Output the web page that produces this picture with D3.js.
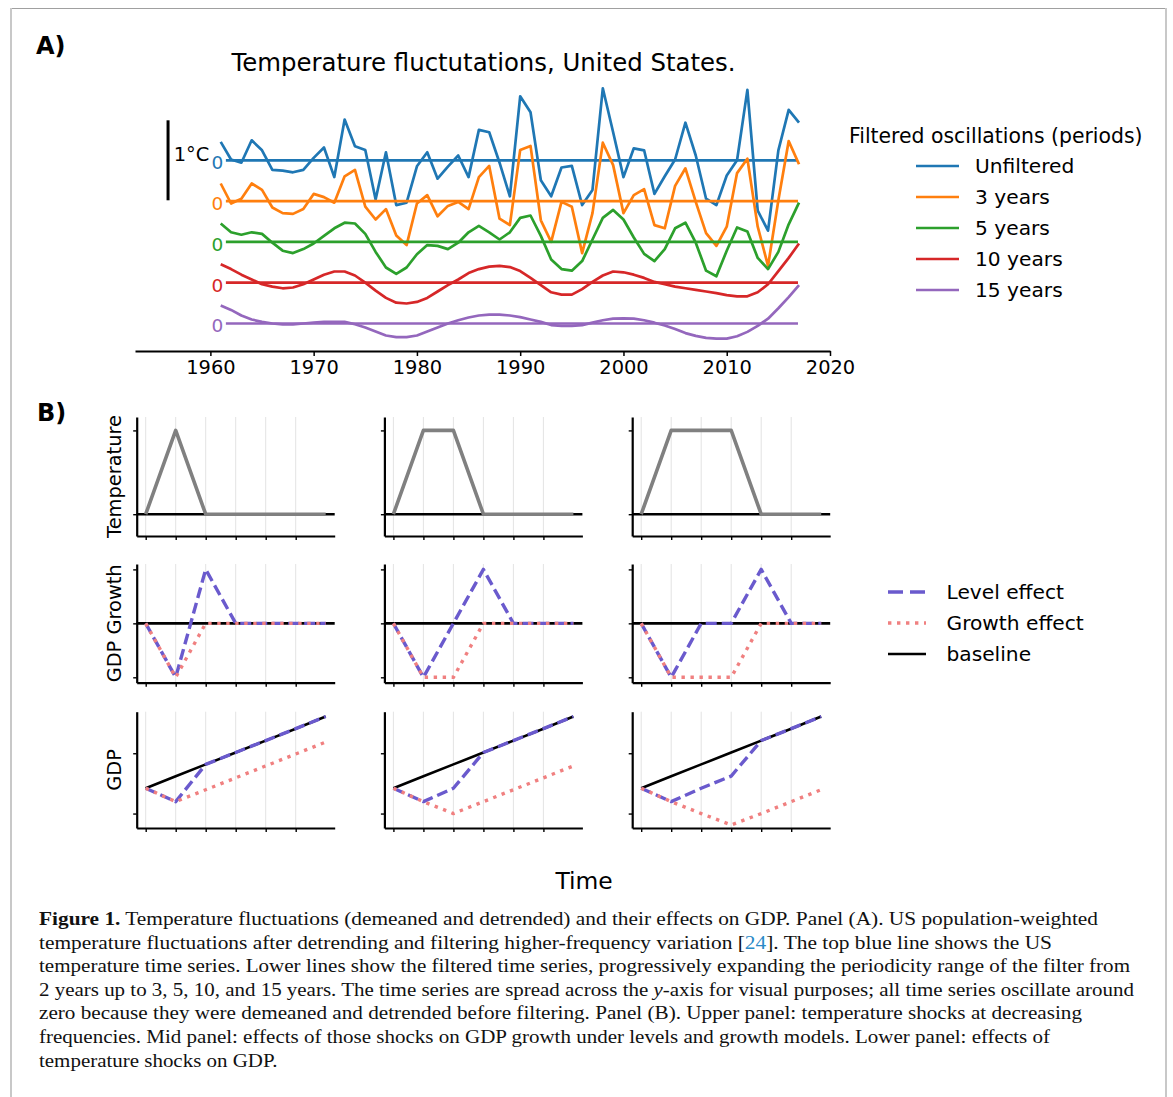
<!DOCTYPE html>
<html>
<head>
<meta charset="utf-8">
<script src="https://cdn.jsdelivr.net/npm/d3@7"></script>
<style>
  body { margin: 0; background: #fff; }
  svg { display: block; }
</style>
</head>
<body>
<script>
// ---------------- Panel A data: US temperature fluctuations (degC, demeaned + detrended) ----------------
var years = [1961,1962,1963,1964,1965,1966,1967,1968,1969,1970,
             1971,1972,1973,1974,1975,1976,1977,1978,1979,1980,
             1981,1982,1983,1984,1985,1986,1987,1988,1989,1990,
             1991,1992,1993,1994,1995,1996,1997,1998,1999,2000,
             2001,2002,2003,2004,2005,2006,2007,2008,2009,2010,
             2011,2012,2013,2014,2015,2016,2017];
var unfiltered = [0.23,0.01,-0.03,0.25,0.125,-0.12,-0.13,-0.15,-0.12,0.03,
                  0.16,-0.21,0.51,0.175,0.13,-0.49,0.10,-0.56,-0.53,-0.075,
                  0.10,-0.23,-0.08,0.06,-0.21,0.38,0.35,-0.03,-0.45,0.80,
                  0.60,-0.25,-0.45,-0.09,-0.07,-0.56,-0.37,0.90,0.35,-0.21,
                  0.15,0.125,-0.42,-0.20,0.01,0.47,0.06,-0.48,-0.56,-0.19,
                  0.0,0.88,-0.63,-0.88,0.125,0.63,0.47];
var filt3 = [0.22,-0.03,0.03,0.22,0.14,-0.08,-0.15,-0.16,-0.10,0.09,
             0.05,-0.02,0.31,0.39,-0.07,-0.23,-0.10,-0.43,-0.55,-0.03,
             0.075,-0.19,-0.06,-0.01,-0.10,0.30,0.44,-0.22,-0.30,0.64,
             0.69,-0.24,-0.51,-0.01,-0.07,-0.65,-0.15,0.73,0.45,-0.15,
             0.075,0.15,-0.30,-0.34,0.19,0.41,-0.01,-0.40,-0.56,-0.32,
             0.35,0.53,-0.32,-0.81,0.01,0.75,0.46];
var filt5 = [0.23,0.12,0.09,0.12,0.10,-0.01,-0.11,-0.14,-0.09,-0.02,
             0.075,0.17,0.24,0.23,0.10,-0.125,-0.32,-0.40,-0.32,-0.155,
             -0.04,-0.05,-0.09,-0.01,0.12,0.20,0.12,0.03,0.12,0.30,
             0.33,0.075,-0.22,-0.34,-0.36,-0.24,0.03,0.30,0.40,0.28,
             0.055,-0.15,-0.24,-0.09,0.17,0.24,-0.01,-0.36,-0.43,-0.11,
             0.18,0.13,-0.20,-0.34,-0.125,0.22,0.49];
var filt10 = [0.23,0.17,0.10,0.04,-0.02,-0.05,-0.07,-0.06,-0.02,0.04,
              0.10,0.14,0.14,0.09,0.0,-0.10,-0.19,-0.25,-0.26,-0.24,
              -0.19,-0.11,-0.03,0.04,0.12,0.17,0.20,0.21,0.195,0.145,
              0.06,-0.03,-0.12,-0.15,-0.15,-0.08,0.01,0.09,0.14,0.13,
              0.10,0.06,0.01,-0.02,-0.05,-0.07,-0.09,-0.11,-0.13,-0.155,
              -0.17,-0.17,-0.12,-0.02,0.145,0.31,0.49];
var filt15 = [0.225,0.17,0.10,0.05,0.02,0.0,-0.01,-0.01,0.0,0.01,
              0.02,0.02,0.02,-0.01,-0.05,-0.10,-0.15,-0.17,-0.17,-0.15,
              -0.10,-0.05,0.0,0.04,0.075,0.10,0.11,0.11,0.10,0.08,
              0.05,0.02,-0.02,-0.03,-0.03,-0.02,0.01,0.04,0.06,0.065,
              0.06,0.04,0.01,-0.025,-0.07,-0.12,-0.155,-0.18,-0.19,-0.19,
              -0.16,-0.105,-0.03,0.06,0.19,0.33,0.48];
var seriesNames = ["Unfiltered", "3 years", "5 years", "10 years", "15 years"];
var seriesOffset = [0, -0.51, -1.02, -1.53, -2.04];   // vertical spreading (degC)
var yearTicks = [1960, 1970, 1980, 1990, 2000, 2010, 2020];

// ---------------- Panel B data: stylised shocks ----------------
var steps = [0, 1, 2, 3, 4, 5, 6];
var stepTicks = [0, 1, 2, 3, 4, 5];
var tempShock = [[0,1,0,0,0,0,0], [0,1,1,0,0,0,0], [0,1,1,1,0,0,0]];
var growthLevel = [[0,-1,1,0,0,0,0], [0,-1,0,1,0,0,0], [0,-1,0,0,1,0,0]];
var growthGrowth = [[0,-1,0,0,0,0,0], [0,-1,-1,0,0,0,0], [0,-1,-1,-1,0,0,0]];
var gdpBaseline = [0, 0.47, 0.94, 1.41, 1.88, 2.35, 2.83];
var gdpLevel = [[0,-0.53,0.94,1.41,1.88,2.35,2.83],
                [0,-0.53,0.0,1.41,1.88,2.35,2.83],
                [0,-0.53,0.0,0.48,1.88,2.35,2.83]];
var gdpGrowth = [[0,-0.53,-0.06,0.41,0.88,1.35,1.82],
                 [0,-0.53,-1.0,-0.53,-0.06,0.41,0.88],
                 [0,-0.53,-1.0,-1.45,-1.0,-0.53,-0.06]];
var tempTicks = [0, 1];
var growthTicks = [-1, 0, 1];
var gdpTicks = [-1, 1.38];
var legendB = ["Level effect", "Growth effect", "baseline"];

// ---------------- setup ----------------
var W = 1173, H = 1097;
var sans = "DejaVu Sans, sans-serif";
var colors = ["#1f77b4", "#ff7f0e", "#2ca02c", "#d62728", "#9467bd"];
var levelColor = "#6a5acd", growthColor = "#f08080";

var svg = d3.select("body").append("svg")
  .attr("width", W)
  .attr("height", H)
  .style("font-family", sans);

svg.append("rect").attr("width", W).attr("height", H).attr("fill", "#fff");

// page frame
svg.append("line").attr("x1", 11).attr("x2", 1166).attr("y1", 8.5).attr("y2", 8.5)
  .attr("stroke", "#a0a0a0").attr("stroke-width", 1.2);
svg.append("line").attr("x1", 11).attr("x2", 11).attr("y1", 8).attr("y2", H)
  .attr("stroke", "#c8c8c8").attr("stroke-width", 2);
svg.append("line").attr("x1", 1166).attr("x2", 1166).attr("y1", 8).attr("y2", H)
  .attr("stroke", "#c8c8c8").attr("stroke-width", 2);

// panel letters
svg.append("text").attr("x", 36).attr("y", 54).text("A)")
  .attr("font-size", 24).attr("font-weight", "bold");
svg.append("text").attr("x", 37).attr("y", 421).text("B)")
  .attr("font-size", 24).attr("font-weight", "bold");

// ================= Panel A =================
var xA = d3.scaleLinear().domain([1952.7, 2020]).range([135, 830]);
var yA = d3.scaleLinear().domain([-2.384, 0]).range([351, 160.3]);   // 1 degC = 80 px

svg.append("text")
  .attr("x", 483.5).attr("y", 70.5)
  .attr("text-anchor", "middle")
  .attr("font-size", 24.4)
  .text("Temperature fluctutations, United States.");

var seriesA = [unfiltered, filt3, filt5, filt10, filt15];
var lineA = d3.line()
  .x(function (d) { return xA(d.year); })
  .y(function (d) { return yA(d.v); });

var gA = svg.append("g");
seriesA.forEach(function (vals, i) {
  var pts = years.map(function (yr, j) { return {year: yr, v: vals[j] + seriesOffset[i]}; });
  gA.append("path")
    .attr("d", lineA(pts))
    .attr("fill", "none")
    .attr("stroke", colors[i])
    .attr("stroke-width", 2.7)
    .attr("stroke-linejoin", "round");
  // zero line
  gA.append("line")
    .attr("x1", xA(1961.5)).attr("x2", xA(2016.9))
    .attr("y1", yA(seriesOffset[i])).attr("y2", yA(seriesOffset[i]))
    .attr("stroke", colors[i])
    .attr("stroke-width", 2.7);
  gA.append("text")
    .attr("x", xA(1961.25)).attr("y", yA(seriesOffset[i]) + 9)
    .attr("text-anchor", "end")
    .attr("font-size", 18.5)
    .attr("fill", colors[i])
    .text("0");
});

// 1 degC scale bar
gA.append("line")
  .attr("x1", xA(1955.9)).attr("x2", xA(1955.9))
  .attr("y1", yA(0.5)).attr("y2", yA(-0.5))
  .attr("stroke", "#000").attr("stroke-width", 3);
gA.append("text")
  .attr("x", xA(1956.45)).attr("y", 161)
  .attr("font-size", 19.4)
  .text("1°C");

// x axis
var axA = svg.append("g")
  .attr("transform", "translate(0,351)")
  .call(d3.axisBottom(xA).tickValues(yearTicks).tickFormat(d3.format("d"))
        .tickSize(5).tickSizeOuter(0).tickPadding(4));
axA.select(".domain").attr("stroke-width", 2);
axA.selectAll(".tick line").attr("stroke-width", 1.5);
axA.selectAll(".tick text").attr("font-size", 19.4).attr("font-family", sans).attr("fill", "#000");

// legend A
var legA = svg.append("g");
legA.append("text").attr("x", 849).attr("y", 142.5).attr("font-size", 20.4)
  .text("Filtered oscillations (periods)");
seriesNames.forEach(function (name, i) {
  var yy = 166 + i * 31;
  legA.append("line").attr("x1", 916).attr("x2", 959).attr("y1", yy).attr("y2", yy)
    .attr("stroke", colors[i]).attr("stroke-width", 2.7);
  legA.append("text").attr("x", 975).attr("y", yy + 7.3).attr("font-size", 20.2).text(name);
});

// ================= Panel B =================
var colLeft = [136.7, 384.4, 632.2];
var axW = 198;
var rowBox = [
  {top: 417, bottom: 536, domain: [-0.26, 1.16], ticks: tempTicks, label: "Temperature"},
  {top: 564, bottom: 682.7, domain: [-1.1, 1.1], ticks: growthTicks, label: "GDP Growth"},
  {top: 711.7, bottom: 828, domain: [-1.57, 3.02], ticks: gdpTicks, label: "GDP"}
];

function addLine(g, x, y, vals, color, width, dash) {
  var pts = steps.map(function (t, j) { return [t, vals[j]]; });
  var p = g.append("path")
    .attr("d", d3.line().x(function (d) { return x(d[0]); }).y(function (d) { return y(d[1]); })(pts))
    .attr("fill", "none")
    .attr("stroke", color)
    .attr("stroke-width", width)
    .attr("stroke-linejoin", "round");
  if (dash) p.attr("stroke-dasharray", dash);
  return p;
}

rowBox.forEach(function (row, r) {
  // y label
  svg.append("text")
    .attr("transform", "translate(121," + ((row.top + row.bottom) / 2) + ") rotate(-90)")
    .attr("text-anchor", "middle")
    .attr("font-size", 19.4)
    .text(row.label);

  colLeft.forEach(function (left, c) {
    var g = svg.append("g");
    var x = d3.scaleLinear().domain([-0.3, 6.3]).range([left, left + axW]);
    var y = d3.scaleLinear().domain(row.domain).range([row.bottom, row.top]);

    // vertical grid
    g.selectAll(".grid").data(stepTicks).enter().append("line")
      .attr("x1", function (d) { return x(d); }).attr("x2", function (d) { return x(d); })
      .attr("y1", row.top).attr("y2", row.bottom)
      .attr("stroke", "#e3e3e3").attr("stroke-width", 1);

    // spines + ticks
    var ax = g.append("g").attr("transform", "translate(" + left + ",0)")
      .call(d3.axisLeft(y).tickValues(row.ticks).tickFormat("").tickSize(3.5).tickSizeOuter(0));
    var bx = g.append("g").attr("transform", "translate(0," + row.bottom + ")")
      .call(d3.axisBottom(x).tickValues(stepTicks).tickFormat("").tickSize(4).tickSizeOuter(0));
    [ax, bx].forEach(function (a) {
      a.select(".domain").attr("stroke-width", 2.2);
      a.selectAll(".tick line").attr("stroke-width", 1.4);
    });

    if (r === 0) {
      g.append("line").attr("x1", left).attr("x2", left + axW)
        .attr("y1", y(0)).attr("y2", y(0))
        .attr("stroke", "#000").attr("stroke-width", 2.6);
      addLine(g, x, y, tempShock[c], "#808080", 3.6);
    } else if (r === 1) {
      g.append("line").attr("x1", left).attr("x2", left + axW)
        .attr("y1", y(0)).attr("y2", y(0))
        .attr("stroke", "#000").attr("stroke-width", 2.6);
      addLine(g, x, y, growthLevel[c], levelColor, 3.4, "11,5");
      addLine(g, x, y, growthGrowth[c], growthColor, 3.4, "3.4,5.6");
    } else {
      addLine(g, x, y, gdpBaseline, "#000", 2.6);
      addLine(g, x, y, gdpLevel[c], levelColor, 3.4, "11,5");
      addLine(g, x, y, gdpGrowth[c], growthColor, 3.4, "3.4,5.6");
    }
  });
});

// "Time" label
svg.append("text").attr("x", 584).attr("y", 889).attr("text-anchor", "middle")
  .attr("font-size", 23.4).text("Time");

// legend B
var legStyles = [
  {color: levelColor, dash: "15,7", w: 3.4},
  {color: growthColor, dash: "3.4,5.6", w: 3.4},
  {color: "#000", dash: null, w: 2.6}
];
legendB.forEach(function (name, i) {
  var yy = 592 + i * 31;
  var l = svg.append("line").attr("x1", 888).attr("x2", 926).attr("y1", yy).attr("y2", yy)
    .attr("stroke", legStyles[i].color).attr("stroke-width", legStyles[i].w);
  if (legStyles[i].dash) l.attr("stroke-dasharray", legStyles[i].dash);
  svg.append("text").attr("x", 946.5).attr("y", yy + 7.3).attr("font-size", 20.2).text(name);
});

// ================= Caption =================
var capLines = [
  [{t: "Figure 1.", b: true}, {t: " Temperature fluctuations (demeaned and detrended) and their effects on GDP. Panel (A). US population-weighted"}],
  [{t: "temperature fluctuations after detrending and filtering higher-frequency variation ["}, {t: "24", c: "#2a8ac8"}, {t: "]. The top blue line shows the US"}],
  [{t: "temperature time series. Lower lines show the filtered time series, progressively expanding the periodicity range of the filter from"}],
  [{t: "2 years up to 3, 5, 10, and 15 years. The time series are spread across the "}, {t: "y", i: true}, {t: "-axis for visual purposes; all time series oscillate around"}],
  [{t: "zero because they were demeaned and detrended before filtering. Panel (B). Upper panel: temperature shocks at decreasing"}],
  [{t: "frequencies. Mid panel: effects of those shocks on GDP growth under levels and growth models. Lower panel: effects of"}],
  [{t: "temperature shocks on GDP."}]
];
// right edge of each printed line (last one follows the common stretch)
var capEnds = [1098, 1052, 1130, 1134, 1082, 1050, null];
var capX = 39;
var capG = svg.append("g")
  .style("font-family", "Liberation Serif, serif")
  .style("white-space", "pre")
  .attr("font-size", 19)
  .attr("fill", "#111");
var capNodes = capLines.map(function (parts, k) {
  var t = capG.append("text").attr("x", capX).attr("y", 925 + k * 23.6);
  parts.forEach(function (p) {
    var s = t.append("tspan").text(p.t);
    if (p.b) s.attr("font-weight", "bold");
    if (p.c) s.attr("fill", p.c);
    if (p.i) s.attr("font-style", "italic");
  });
  return t;
});
var widths = capNodes.map(function (t) { return t.node().getComputedTextLength(); });
var k = (capEnds[3] - capX) / widths[3];
capNodes.forEach(function (t, i) {
  var target = capEnds[i] ? capEnds[i] - capX : widths[i] * k;
  t.attr("textLength", target).attr("lengthAdjust", "spacingAndGlyphs");
});
</script>
</body>
</html>
